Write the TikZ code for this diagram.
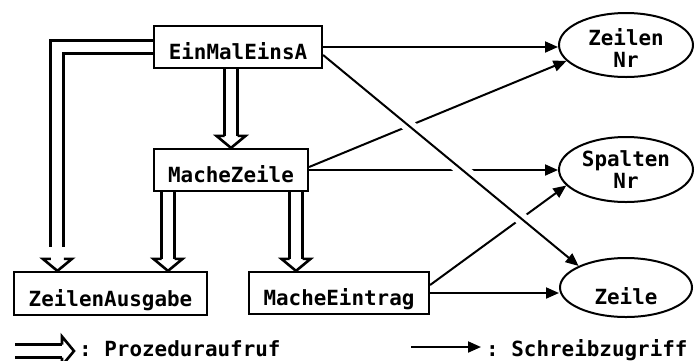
\documentclass[tikz,border=0pt]{standalone}
\usepackage{fontspec}
\setmonofont{DejaVu Sans Mono}
\usetikzlibrary{arrows.meta, shapes.geometric}
\begin{document}
\begin{tikzpicture}[x=1pt, y=-1pt, line cap=butt,
  lbl/.style={font=\ttfamily\bfseries\fontsize{20.9}{19}\selectfont},
  proc/.style={lbl, draw, line width=2.2pt, inner sep=0pt,
    text height=25pt, text depth=0pt},
  var/.style={lbl, draw, ellipse, line width=2pt, inner sep=0pt,
    text height=0pt, text depth=0pt},
  call/.style={draw, double, double distance=10pt, line width=3pt, shorten >=12pt},
  callhead/.pic={\draw[line width=2.6pt, line join=miter]
    (-6.5,-12) -- (-14.5,-12) -- (0,0) -- (14.5,-12) -- (6.5,-12);},
  write/.style={line width=2pt, -{Triangle[length=13pt, width=11pt]}},
  hop/.style={preaction={draw=white, line width=13pt, shorten <=45pt,
    shorten >=45pt, -}},
]
\useasboundingbox (0,0) rectangle (696,360);

% procedures
\node[proc, minimum width=168pt, minimum height=42pt] (ema) at (238,47) {EinMalEinsA};
\node[proc, minimum width=154pt, minimum height=42pt] (mz) at (231,170) {MacheZeile};
\node[proc, minimum width=193pt, minimum height=43pt] (za) at (110.5,293.5) {ZeilenAusgabe};
\node[proc, minimum width=180pt, minimum height=42pt] (me) at (339,293) {MacheEintrag};

% variables (text lowered below the centre of each ellipse)
\node[var, minimum width=134pt, minimum height=64pt] (znr) at (626,45)
  {\raisebox{-22pt}{\begin{tabular}[b]{@{}c@{}}Zeilen\\[1pt]Nr\end{tabular}}};
\node[var, minimum width=134pt, minimum height=65pt] (snr) at (626,169.5)
  {\raisebox{-19pt}{\begin{tabular}[b]{@{}c@{}}Spalten\\[1pt]Nr\end{tabular}}};
\node[var, minimum width=132pt, minimum height=59pt] (zl) at (626,287.5)
  {\raisebox{-16.5pt}{Zeile}};

% procedure calls
\draw[call] (ema.west) -| ([xshift=44.5pt, yshift=12pt]za.north west);
\pic at ([xshift=44.5pt]za.north west) {callhead};
\draw[call] (ema.south -| mz.north) -- (mz.north);
\pic at (mz.north) {callhead};
\draw[call] ([xshift=-63pt]mz.south) -- ([xshift=-63pt]mz.south |- za.north);
\pic at ([xshift=-63pt]mz.south |- za.north) {callhead};
\draw[call] ([xshift=65pt]mz.south) -- ([xshift=65pt]mz.south |- me.north);
\pic at ([xshift=65pt]mz.south |- me.north) {callhead};

% write accesses
\draw[write] (ema.east) -- (ema.east -| znr.west);
\draw[write] ([yshift=3pt]mz.east) -- (znr.195);
\draw[write] (mz.east) -- (mz.east -| snr.west);
\draw[write] ([yshift=8pt]me.east) -- (snr.195);
\draw[write] (me.east) -- (me.east -| zl.west);
\draw[write, hop] ([yshift=-8pt]ema.east) -- (zl.north west);

% legend
\coordinate (pl) at (15,351);
\coordinate (pr) at (74,351);
\draw[call] (pl) -- (pr);
\pic[rotate=90] at (pr) {callhead};
\node[lbl, inner sep=0pt, anchor=base west] (lp) at (79,356) {: Prozeduraufruf};

\coordinate (wl) at (411,347);
\coordinate (wr) at (481,347);
\draw[write] (wl) -- (wr);
\node[lbl, inner sep=0pt, anchor=base west] (lw) at (486,356) {: Schreibzugriff};
\end{tikzpicture}
\end{document}
